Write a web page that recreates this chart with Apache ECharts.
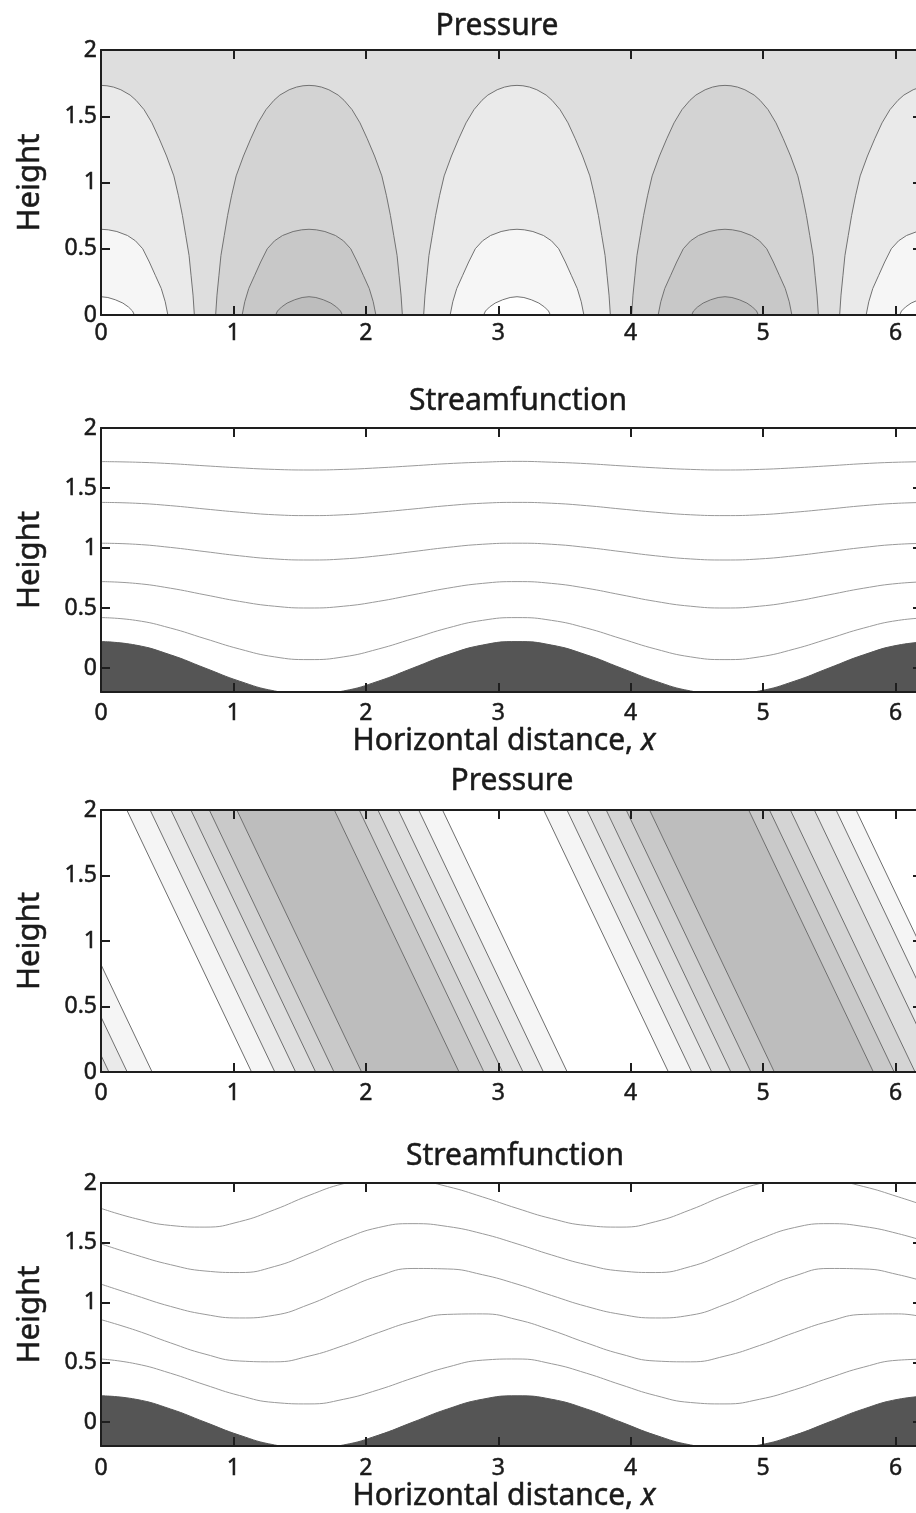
<!DOCTYPE html>
<html><head><meta charset="utf-8">
<script src="https://cdn.jsdelivr.net/npm/echarts@6.0.0/dist/echarts.min.js"></script>
<style>html,body{margin:0;padding:0;background:#fff}#c{width:916px;height:1513px}</style>
</head><body><div id="c"></div>
<script>
// ---------- data ----------
const xTickLabels = [0, 1, 2, 3, 4, 5, 6];
const xTickMarks = [1, 2, 3, 4, 5, 6];
const yTickLabels = [0, 0.5, 1, 1.5, 2];
const panelTitles = ['Pressure', 'Streamfunction', 'Pressure', 'Streamfunction'];

// Panel 1: arches of the pressure contours ([height, half-width])
const archCentersLight = [0, 3.1416, 6.2832];
const archCentersDark = [1.5708, 4.7124];
const archOuter = [[0,0.705],[0.15,0.695],[0.3,0.680],[0.45,0.665],[0.6,0.640],[0.75,0.615],[0.9,0.585],[1.05,0.550],[1.2,0.495],[1.33,0.440],[1.45,0.385],[1.55,0.325],[1.62,0.265],[1.66,0.220],[1.70,0.150],[1.72,0.095],[1.73,0.045],[1.733,0]];
const archMiddle = [[0,0.505],[0.1,0.485],[0.2,0.455],[0.3,0.410],[0.4,0.365],[0.5,0.315],[0.56,0.260],[0.60,0.200],[0.63,0.120],[0.643,0.055],[0.647,0]];
const archInner = [[0,0.252],[0.03,0.238],[0.06,0.208],[0.09,0.165],[0.115,0.108],[0.132,0.052],[0.138,0]];

// Panel 3: tilted pressure contours (x at height 0 and at height 2)
const tiltBottom = [-0.445,-0.251,-0.112,0.060,0.198,0.386, 1.137,1.313,1.470,1.621,1.760,1.968, 2.704,2.892,3.033,3.187,3.341,3.521, 4.285,4.461,4.612,4.757,4.908,5.085, 5.833,5.990,6.148,6.329,6.493,6.644];
const tiltTop = [-1.387,-1.193,-1.054,-0.882,-0.744,-0.556, 0.195,0.371,0.528,0.679,0.818,1.026, 1.762,1.950,2.091,2.245,2.399,2.579, 3.343,3.519,3.670,3.815,3.966,4.143, 4.891,5.048,5.206,5.387,5.551,5.702];

// Panels 2 and 4: streamlines and terrain
const xs = [0,0.262,0.524,0.785,1.047,1.309,1.571,1.833,2.094,2.356,2.618,2.880,3.142,3.403,3.665,3.927,4.189,4.451,4.712,4.974,5.236,5.498,5.760,6.021,6.283];
const terrain = [0.220,0.191,0.110,0.000,-0.110,-0.191,-0.220,-0.191,-0.110,0.000,0.110,0.191,0.220,0.191,0.110,0.000,-0.110,-0.191,-0.220,-0.191,-0.110,0.000,0.110,0.191,0.220];
const stream1L1 = [1.720,1.715,1.703,1.685,1.668,1.655,1.650,1.655,1.668,1.685,1.703,1.715,1.722,1.715,1.703,1.685,1.668,1.655,1.650,1.655,1.668,1.685,1.703,1.715,1.720];
const stream1L2 = [1.380,1.373,1.353,1.325,1.298,1.277,1.270,1.277,1.298,1.325,1.353,1.373,1.380,1.373,1.353,1.325,1.298,1.277,1.270,1.277,1.298,1.325,1.353,1.373,1.380];
const stream1L3 = [1.040,1.031,1.005,0.970,0.935,0.909,0.900,0.909,0.935,0.970,1.005,1.031,1.040,1.031,1.005,0.970,0.935,0.909,0.900,0.909,0.935,0.970,1.005,1.031,1.040];
const stream1L4 = [0.720,0.705,0.665,0.610,0.555,0.515,0.500,0.515,0.555,0.610,0.665,0.705,0.720,0.705,0.665,0.610,0.555,0.515,0.500,0.515,0.555,0.610,0.665,0.705,0.720];
const stream1L5 = [0.420,0.397,0.333,0.245,0.158,0.093,0.070,0.093,0.158,0.245,0.333,0.397,0.420,0.397,0.333,0.245,0.158,0.093,0.070,0.093,0.158,0.245,0.333,0.397,0.420];
const stream2L1 = [1.788,1.702,1.645,1.631,1.677,1.776,1.896,1.995,2.041,2.027,1.970,1.884,1.788,1.702,1.645,1.631,1.677,1.776,1.896,1.995,2.041,2.027,1.970,1.884,1.788];
const stream2L2 = [1.491,1.398,1.317,1.264,1.251,1.301,1.408,1.531,1.627,1.660,1.636,1.576,1.491,1.398,1.317,1.264,1.251,1.301,1.408,1.531,1.627,1.660,1.636,1.576,1.491];
const stream2L3 = [1.154,1.059,0.968,0.901,0.871,0.894,0.984,1.108,1.222,1.285,1.281,1.233,1.154,1.059,0.968,0.901,0.871,0.894,0.984,1.108,1.222,1.285,1.281,1.233,1.154];
const stream2L4 = [0.857,0.768,0.663,0.569,0.511,0.504,0.552,0.641,0.748,0.843,0.901,0.905,0.857,0.768,0.663,0.569,0.511,0.504,0.552,0.641,0.748,0.843,0.901,0.905,0.857];
const stream2L5 = [0.528,0.488,0.409,0.312,0.222,0.164,0.152,0.191,0.270,0.369,0.460,0.518,0.528,0.488,0.409,0.312,0.222,0.164,0.152,0.191,0.270,0.369,0.460,0.518,0.528];

// ---------- styles ----------
const FONT = '"Noto Sans", "Open Sans", sans-serif';
const TXT = '#1a1a1a';
const AX = '#1e1e1e';
const TB = 0.5; // slight text weight boost
const lightFills = ['#eaeaea', '#f6f6f6', '#ffffff'];
const darkFills = ['#d3d3d3', '#c8c8c8', '#bdbdbd'];
const tiltBandColors = ['#c9c9c9','#d4d4d4','#dfdfdf','#eaeaea','#f5f5f5','#ffffff',
 '#f5f5f5','#eaeaea','#dfdfdf','#d4d4d4','#c9c9c9','#bdbdbd',
 '#c9c9c9','#d4d4d4','#dfdfdf','#eaeaea','#f5f5f5','#ffffff',
 '#f5f5f5','#eaeaea','#dfdfdf','#d4d4d4','#c9c9c9','#bdbdbd',
 '#c9c9c9','#d4d4d4','#dfdfdf','#eaeaea','#f5f5f5'];

const gridBoxes = [
  {left:101, top:50, width:821, height:265, ymin:0, labelMargin:7, bg:'#dedede'},
  {left:101, top:428, width:821, height:264, ymin:-0.2, labelMargin:10, bg:'#ffffff'},
  {left:101, top:810, width:821, height:262, ymin:0, labelMargin:10, bg:'#ffffff'},
  {left:101, top:1183, width:821, height:263, ymin:-0.2, labelMargin:11, bg:'#ffffff'}
];
const titlePos = [[497, 11], [518, 386], [512, 766], [515, 1141]];

// ---------- build option ----------
const grid = [], xAxis = [], yAxis = [], series = [];
gridBoxes.forEach((g, gi) => {
  grid.push({left:g.left, top:g.top, width:g.width, height:g.height, show:true,
    backgroundColor:g.bg, borderWidth:0, containLabel:false, outerBoundsMode:'none'});
  const tick = {show:true, inside:true, length:9, lineStyle:{color:AX, width:2}};
  const line = {show:true, onZero:false, lineStyle:{color:AX, width:2}};
  const hasName = gi === 1 || gi === 3;
  xAxis.push({type:'value', gridIndex:gi, position:'bottom', min:0, max:6.2, z:10,
    axisLine:line, splitLine:{show:false},
    axisTick:Object.assign({customValues:xTickMarks}, tick),
    axisLabel:{show:true, customValues:xTickLabels, margin:g.labelMargin, fontSize:23, color:TXT, fontFamily:FONT,
      textBorderColor:TXT, textBorderWidth:TB},
    name: hasName ? 'Horizontal distance, {i|x}' : '', nameLocation:'middle', nameGap:30,
    nameTextStyle:{fontSize:30, color:TXT, fontFamily:FONT, padding:[0,15,0,0], textBorderColor:TXT, textBorderWidth:TB,
      rich:{i:{fontStyle:'italic', fontSize:30, color:TXT, fontFamily:FONT, textBorderColor:TXT, textBorderWidth:TB}}}});
  xAxis.push({type:'value', gridIndex:gi, position:'top', min:0, max:6.2, z:10,
    axisLine:line, splitLine:{show:false},
    axisTick:Object.assign({customValues:xTickMarks}, tick), axisLabel:{show:false}});
  yAxis.push({type:'value', gridIndex:gi, position:'left', min:g.ymin, max:2, z:10,
    axisLine:line, splitLine:{show:false},
    axisTick:Object.assign({customValues:yTickLabels}, tick),
    axisLabel:{show:true, customValues:yTickLabels, margin:4, fontSize:23, color:TXT, fontFamily:FONT,
      textBorderColor:TXT, textBorderWidth:TB},
    name:'Height', nameLocation:'middle', nameGap:55,
    nameTextStyle:{fontSize:31, color:TXT, fontFamily:FONT, textBorderColor:TXT, textBorderWidth:TB}});
  yAxis.push({type:'value', gridIndex:gi, position:'right', min:g.ymin, max:2, z:10,
    axisLine:line, splitLine:{show:false},
    axisTick:Object.assign({customValues:yTickLabels}, tick), axisLabel:{show:false}});
});

function clipRect(params) {
  const cs = params.coordSys;
  return {type:'rect', shape:{x:cs.x, y:cs.y, width:cs.width, height:cs.height}};
}

// Panel 1 arches
const p1Items = [];
function addArches(centers, fills) {
  centers.forEach(c => {
    [archOuter, archMiddle, archInner].forEach((prof, li) => {
      const right = prof.map(p => [c + p[1], p[0]]);
      const left = prof.slice(0, -1).reverse().map(p => [c - p[1], p[0]]);
      p1Items.push({pts: right.concat(left), fill: fills[li], level: li});
    });
  });
}
addArches(archCentersLight, lightFills);
addArches(archCentersDark, darkFills);
p1Items.sort((a, b) => a.level - b.level);
series.push({type:'custom', xAxisIndex:0, yAxisIndex:0, silent:true, clip:true,
  data: p1Items.map((d, i) => [i]),
  renderItem: (params, api) => {
    const it = p1Items[api.value(0)];
    return {type:'polygon', shape:{points: it.pts.map(p => api.coord(p))},
      style:{fill: it.fill, stroke:'#727272', lineWidth:1}, clipPath: clipRect(params)};
  }});

// Panel 3 tilted bands and lines
series.push({type:'custom', xAxisIndex:4, yAxisIndex:4, silent:true, clip:true,
  data: tiltBandColors.map((c, i) => [i]),
  renderItem: (params, api) => {
    const i = api.value(0);
    const pts = [[tiltBottom[i],0],[tiltBottom[i+1],0],[tiltTop[i+1],2],[tiltTop[i],2]].map(p => api.coord(p));
    return {type:'polygon', shape:{points:pts}, style:{fill: tiltBandColors[i]}, clipPath: clipRect(params)};
  }});
series.push({type:'custom', xAxisIndex:4, yAxisIndex:4, silent:true, clip:true,
  data: tiltBottom.map((b, i) => [i]),
  renderItem: (params, api) => {
    const i = api.value(0);
    const a = api.coord([tiltBottom[i], 0]), b = api.coord([tiltTop[i], 2]);
    return {type:'line', shape:{x1:a[0], y1:a[1], x2:b[0], y2:b[1]},
      style:{stroke:'#6e6e6e', lineWidth:1}, clipPath: clipRect(params)};
  }});

// Panels 2 and 4 streamlines + terrain
function addStream(axisIdx, lines) {
  series.push({type:'line', xAxisIndex:axisIdx, yAxisIndex:axisIdx, silent:true, symbol:'none', smooth:true,
    data: xs.map((x, i) => [x, terrain[i]]),
    lineStyle:{color:'#555555', width:1}, areaStyle:{color:'#555555', opacity:1, origin:'start'}});
  lines.forEach(L => {
    series.push({type:'line', xAxisIndex:axisIdx, yAxisIndex:axisIdx, silent:true, symbol:'none', smooth:true,
      data: xs.map((x, i) => [x, L[i]]), lineStyle:{color:'#9a9a9a', width:1}});
  });
}
addStream(2, [stream1L1, stream1L2, stream1L3, stream1L4, stream1L5]);
addStream(6, [stream2L1, stream2L2, stream2L3, stream2L4, stream2L5]);

const title = panelTitles.map((t, i) => ({text:t, left:titlePos[i][0], top:titlePos[i][1], textAlign:'center', padding:0,
  textStyle:{fontSize:30, fontWeight:'normal', color:TXT, fontFamily:FONT, textBorderColor:TXT, textBorderWidth:TB}}));

const chart = echarts.init(document.getElementById('c'), null, {renderer:'canvas'});
chart.setOption({animation:false, backgroundColor:'#ffffff', title, grid, xAxis, yAxis, series});
</script></body></html>
